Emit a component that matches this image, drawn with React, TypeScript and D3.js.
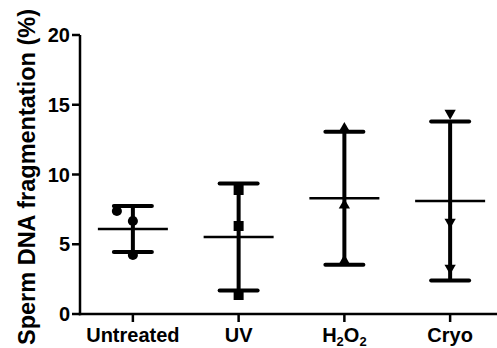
import React from "react";
import * as d3 from "d3";

const categories = ["Untreated", "UV", "H2O2", "Cryo"];
const untreated = [7.38, 6.67, 4.23];
const uv = [8.89, 6.31, 1.36];
const h2o2 = [13.3, 7.8, 3.8];
const cryo = [14.4, 6.6, 3.3];
const series = [untreated, uv, h2o2, cryo];
const yTicks = [0, 5, 10, 15, 20];
const jitter = [[-16, 0, 0], [0, 0, 0], [0, 0, 0], [0, 0, 0]];
const symbols = [d3.symbolCircle, d3.symbolSquare, d3.symbolTriangle, d3.symbolTriangle];
const symbolSizes = [80, 100, 55, 55];
const rotations = [0, 0, 0, 180];

const W = 497;
const H = 348;
const FONT = "Liberation Sans, Arial, Helvetica, sans-serif";

export default function App() {
  const x = d3.scalePoint<string>().domain(categories).range([80, 503]).padding(0.5);
  const y = d3.scaleLinear().domain([0, 20]).range([314, 35]);

  return (
    <svg width={W} height={H} style={{ position: "absolute", left: 0, top: 0, background: "#fff" }}>
      <rect width={W} height={H} fill="#fff" />
      {/* y axis */}
      <line x1={80} x2={80} y1={y(20)} y2={y(0) + 1.25} stroke="#000" strokeWidth={2.5} />
      {yTicks.map((t) => (
        <g key={t}>
          <line x1={72} x2={80} y1={y(t)} y2={y(t)} stroke="#000" strokeWidth={2.5} />
          <text x={70} y={y(t)} dy="0.36em" textAnchor="end" fontFamily={FONT} fontWeight="bold" fontSize={20} fill="#000">
            {t}
          </text>
        </g>
      ))}
      {/* x axis */}
      <line x1={78.75} x2={W} y1={y(0)} y2={y(0)} stroke="#000" strokeWidth={2.5} />
      {categories.map((c) => (
        <g key={c}>
          <line x1={x(c)} x2={x(c)} y1={y(0)} y2={y(0) + 8} stroke="#000" strokeWidth={2.5} />
          <text x={x(c)} y={342} textAnchor="middle" fontFamily={FONT} fontWeight="bold" fontSize={20} fill="#000">
            {c === "H2O2" ? (
              <>
                H<tspan fontSize={13} dy={4}>2</tspan>
                <tspan dy={-4}>O</tspan>
                <tspan fontSize={13} dy={4}>2</tspan>
              </>
            ) : (
              c
            )}
          </text>
        </g>
      ))}
      {/* y title */}
      <text
        transform={`translate(35, ${177}) rotate(-90)`}
        textAnchor="middle"
        fontFamily={FONT}
        fontWeight="bold"
        fontSize={23.5}
        fill="#000"
      >
        Sperm DNA fragmentation (%)
      </text>
      {/* data */}
      {series.map((vals, i) => {
        const cx = x(categories[i]) as number;
        const m = d3.mean(vals) as number;
        const sd = d3.deviation(vals) as number;
        const sym = d3.symbol().type(symbols[i]).size(symbolSizes[i])();
        return (
          <g key={i}>
            <line x1={cx} x2={cx} y1={y(m + sd)} y2={y(m - sd)} stroke="#000" strokeWidth={4} />
            <line x1={cx - 19} x2={cx + 19} y1={y(m + sd)} y2={y(m + sd)} stroke="#000" strokeWidth={4} strokeLinecap="round" />
            <line x1={cx - 19} x2={cx + 19} y1={y(m - sd)} y2={y(m - sd)} stroke="#000" strokeWidth={4} strokeLinecap="round" />
            <line x1={cx - 35} x2={cx + 35} y1={y(m)} y2={y(m)} stroke="#000" strokeWidth={2.5} />
            {vals.map((v, j) => (
              <path
                key={j}
                d={sym as string}
                transform={`translate(${cx + jitter[i][j]}, ${y(v)}) rotate(${rotations[i]})`}
                fill="#000"
              />
            ))}
          </g>
        );
      })}
    </svg>
  );
}
